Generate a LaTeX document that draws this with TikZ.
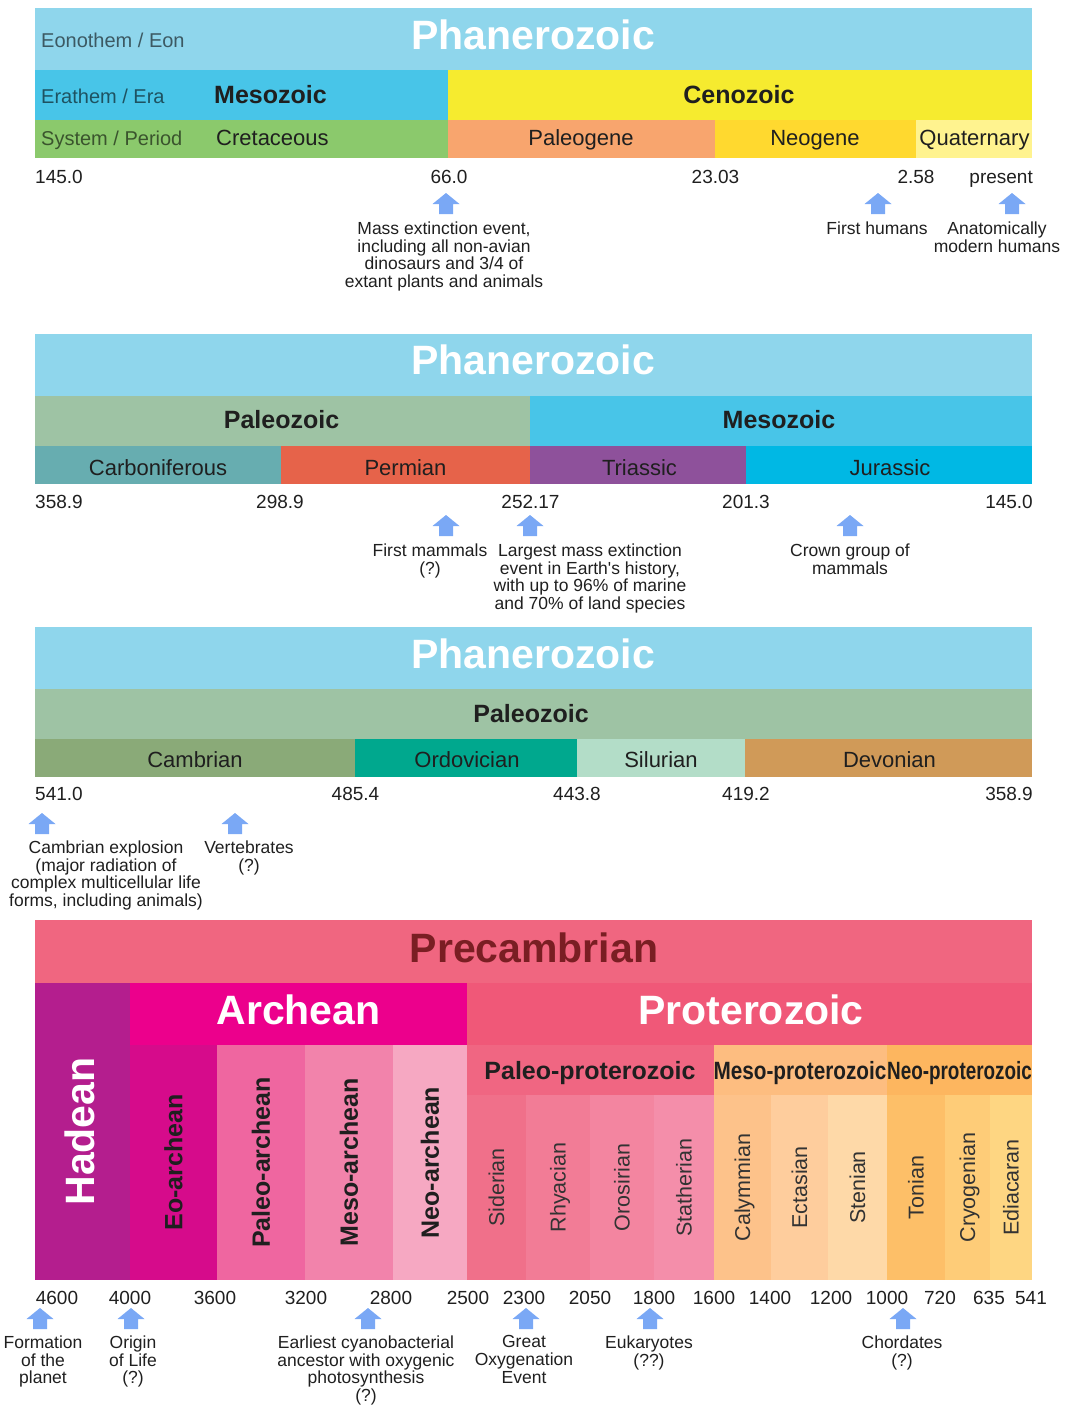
\documentclass[tikz,border=0pt]{standalone}
\usepackage{graphicx}
\usepackage{fontspec}
\setmainfont{Liberation Sans}

\definecolor{phanero}{RGB}{143,214,236}
\definecolor{mesozoic}{RGB}{72,197,232}
\definecolor{cenozoic}{RGB}{246,235,47}
\definecolor{paleozoic}{RGB}{158,195,164}
\definecolor{cretaceous}{RGB}{139,201,108}
\definecolor{paleogene}{RGB}{248,165,110}
\definecolor{neogene}{RGB}{255,217,47}
\definecolor{quaternary}{RGB}{255,243,143}
\definecolor{carbonif}{RGB}{103,173,176}
\definecolor{permian}{RGB}{230,99,74}
\definecolor{triassic}{RGB}{142,81,155}
\definecolor{jurassic}{RGB}{0,184,228}
\definecolor{cambrian}{RGB}{138,170,120}
\definecolor{ordovician}{RGB}{0,168,142}
\definecolor{silurian}{RGB}{179,221,200}
\definecolor{devonian}{RGB}{208,154,88}
\definecolor{precamb}{RGB}{240,102,128}
\definecolor{precambtxt}{RGB}{122,30,35}
\definecolor{hadean}{RGB}{180,30,142}
\definecolor{archean}{RGB}{236,0,140}
\definecolor{proterozoic}{RGB}{240,88,120}
\definecolor{eoarch}{RGB}{214,11,139}
\definecolor{paleoarch}{RGB}{239,102,160}
\definecolor{mesoarch}{RGB}{242,131,171}
\definecolor{neoarch}{RGB}{246,168,194}
\definecolor{paleoprot}{RGB}{240,102,130}
\definecolor{mesoprot}{RGB}{253,189,128}
\definecolor{neoprot}{RGB}{253,182,95}
\definecolor{siderian}{RGB}{240,112,138}
\definecolor{rhyacian}{RGB}{242,124,150}
\definecolor{orosirian}{RGB}{243,133,160}
\definecolor{statherian}{RGB}{244,142,170}
\definecolor{calymmian}{RGB}{253,194,138}
\definecolor{ectasian}{RGB}{254,205,157}
\definecolor{stenian}{RGB}{254,217,168}
\definecolor{tonian}{RGB}{253,191,104}
\definecolor{cryogenian}{RGB}{254,204,120}
\definecolor{ediacaran}{RGB}{254,214,130}
\definecolor{arrowblue}{RGB}{122,168,245}

\begin{document}
\begin{tikzpicture}[
    x=1pt,y=-1pt,
    every node/.style={inner sep=0pt, text=black!88},
    eontitle/.style={font=\fontsize{41}{41}\selectfont\bfseries, text=white, text height=29.4pt, text depth=0pt},
    rank/.style={font=\fontsize{20}{20}\selectfont, text=black, text opacity=0.58, anchor=west, text height=14.3pt, text depth=0pt},
    erabold/.style={font=\fontsize{25}{25}\selectfont\bfseries, text height=17.9pt, text depth=0pt},
    period/.style={font=\fontsize{22}{22}\selectfont, text height=15.8pt, text depth=0pt},
    stage/.style={font=\fontsize{21.5}{21.5}\selectfont, text=black!80, rotate=90, text height=15.4pt, text depth=0pt},
    age/.style={font=\fontsize{19}{19}\selectfont, text height=13.6pt, text depth=0pt},
    note/.style={font=\fontsize{17.5}{17.7}\selectfont, align=center, anchor=north}
]
    \useasboundingbox (0,0) rectangle (1066,1405);

    % Cretaceous to present
    \fill[phanero] (35,8) rectangle (1032,70);
    \fill[mesozoic] (35,70) rectangle (448,120);
    \fill[cenozoic] (448,70) rectangle (1032,120);
    \fill[cretaceous] (35,120) rectangle (448,158);
    \fill[paleogene] (448,120) rectangle (715,158);
    \fill[neogene] (715,120) rectangle (916,158);
    \fill[quaternary] (916,120) rectangle (1032,158);

    \node[eontitle] (phanA) at (533,35) {Phanerozoic};
    \node[rank] (eonlbl) at (41,40) {Eonothem / Eon};
    \node[rank] (eralbl) at (41,96) {Erathem / Era};
    \node[rank] (perlbl) at (41,138) {System / Period};
    \node[erabold, anchor=west] (mesoA) at (214,95) {Mesozoic};
    \node[erabold] (cenoA) at (739,95) {Cenozoic};
    \node[period, anchor=west] (cretA) at (216,138) {Cretaceous};
    \foreach \x/\lbl/\nm in {581/Paleogene/paleog, 815/Neogene/neog, 974.5/Quaternary/quat} {
        \node[period] (\nm) at (\x,138) {\lbl};
    }

    \node[age, anchor=west] (aA0) at (35,177) {145.0};
    \foreach \x/\v/\nm in {449/66.0/aA1, 715.5/23.03/aA2, 916/2.58/aA3} {
        \node[age] (\nm) at (\x,177) {\v};
    }
    \node[age, anchor=east] (aA4) at (1033,177) {present};

    \node[note] (nA1) at (444,221.5) {Mass extinction event,\\including all non-avian\\dinosaurs and 3/4 of\\extant plants and animals};
    \node[note] (nA2) at (877,221.5) {First humans};
    \node[note] (nA3) at (997,221.5) {Anatomically\\modern humans};

    % Carboniferous to Jurassic
    \fill[phanero] (35,334) rectangle (1032,396);
    \fill[paleozoic] (35,396) rectangle (530,446);
    \fill[mesozoic] (530,396) rectangle (1032,446);
    \fill[carbonif] (35,446) rectangle (281,484);
    \fill[permian] (281,446) rectangle (530,484);
    \fill[triassic] (530,446) rectangle (746,484);
    \fill[jurassic] (746,446) rectangle (1032,484);

    \node[eontitle] (phanB) at (533,360) {Phanerozoic};
    \node[erabold] (paleoB) at (281.5,420) {Paleozoic};
    \node[erabold] (mesoB) at (779,420) {Mesozoic};
    \foreach \x/\lbl/\nm in {158/Carboniferous/carb, 405.5/Permian/perm, 639.5/Triassic/tria, 890/Jurassic/jura} {
        \node[period] (\nm) at (\x,468) {\lbl};
    }

    \node[age, anchor=west] (aB0) at (35,502) {358.9};
    \foreach \x/\v/\nm in {280/298.9/aB1, 530.5/252.17/aB2, 746/201.3/aB3} {
        \node[age] (\nm) at (\x,502) {\v};
    }
    \node[age, anchor=east] (aB4) at (1033,502) {145.0};

    \node[note] (nB1) at (430,543.5) {First mammals\\(?)};
    \node[note] (nB2) at (590,543.5) {Largest mass extinction\\event in Earth\textquotesingle s history,\\with up to 96\% of marine\\and 70\% of land species};
    \node[note] (nB3) at (850,543.5) {Crown group of\\mammals};

    % Cambrian to Devonian
    \fill[phanero] (35,627) rectangle (1032,689);
    \fill[paleozoic] (35,689) rectangle (1032,739);
    \fill[cambrian] (35,739) rectangle (355,777);
    \fill[ordovician] (355,739) rectangle (577,777);
    \fill[silurian] (577,739) rectangle (745,777);
    \fill[devonian] (745,739) rectangle (1032,777);

    \node[eontitle] (phanC) at (533,653.5) {Phanerozoic};
    \node[erabold] (paleoC) at (531,714) {Paleozoic};
    \foreach \x/\lbl/\nm in {195/Cambrian/camb, 467/Ordovician/ordo, 661/Silurian/silu, 889.5/Devonian/devo} {
        \node[period] (\nm) at (\x,760) {\lbl};
    }

    \node[age, anchor=west] (aC0) at (35,794) {541.0};
    \foreach \x/\v/\nm in {355.5/485.4/aC1, 577/443.8/aC2, 746/419.2/aC3} {
        \node[age] (\nm) at (\x,794) {\v};
    }
    \node[age, anchor=east] (aC4) at (1033,794) {358.9};

    \node[note] (nC1) at (106,840.5) {Cambrian explosion\\(major radiation of\\complex multicellular life\\forms, including animals)};
    \node[note] (nC2) at (249,840.5) {Vertebrates\\(?)};

    % Precambrian
    \fill[precamb] (35,920) rectangle (1032,983);
    \fill[hadean] (35,983) rectangle (130,1280);
    \fill[archean] (130,983) rectangle (467,1045);
    \fill[proterozoic] (467,983) rectangle (1032,1045);
    \fill[paleoprot] (467,1045) rectangle (714,1095);
    \fill[mesoprot] (714,1045) rectangle (887,1095);
    \fill[neoprot] (887,1045) rectangle (1032,1095);

    \node[eontitle, text=precambtxt] (precam) at (534,947.5) {Precambrian};
    \node[eontitle, rotate=90] (hade) at (80,1131.5) {Hadean};
    \node[eontitle] (arch) at (298.5,1010) {Archean};
    \node[eontitle] (prot) at (751,1010) {Proterozoic};

    \foreach \xa/\xb/\col/\lbl in {130/217/eoarch/Eo-archean, 217/305/paleoarch/Paleo-archean,
                                   305/393/mesoarch/Meso-archean, 393/467/neoarch/Neo-archean} {
        \fill[\col] (\xa,1045) rectangle (\xb,1280);
        \node[erabold, rotate=90] (n\col) at ({(\xa+\xb)/2},1162.5) {\lbl};
    }

    \node[erabold] (npaleoprot) at (590,1071) {Paleo-proterozoic};
    \node[erabold] (nmesoprot) at (800,1071) {\scalebox{0.83}[1]{Meso-proterozoic}};
    \node[erabold] (nneoprot) at (959.5,1071) {\scalebox{0.755}[1]{Neo-proterozoic}};

    \foreach \xa/\xb/\col/\lbl in {467/526/siderian/Siderian, 526/590/rhyacian/Rhyacian,
                                   590/654/orosirian/Orosirian, 654/714/statherian/Statherian,
                                   714/771/calymmian/Calymmian, 771/828/ectasian/Ectasian,
                                   828/887/stenian/Stenian, 887/945/tonian/Tonian,
                                   945/990/cryogenian/Cryogenian, 990/1032/ediacaran/Ediacaran} {
        \fill[\col] (\xa,1095) rectangle (\xb,1280);
        \node[stage] (n\col) at ({(\xa+\xb)/2},1187.5) {\lbl};
    }

    \foreach \x/\v in {57/4600, 130/4000, 215/3600, 306/3200, 391/2800, 468/2500, 524/2300, 590/2050,
                       654/1800, 714/1600, 770/1400, 831/1200, 887/1000, 940/720, 989/635, 1031/541} {
        \node[age] (t\v) at (\x,1298) {\v};
    }

    \node[note] (nD1) at (43,1335.5) {Formation\\of the\\planet};
    \node[note] (nD2) at (133,1335.5) {Origin\\of Life\\(?)};
    \node[note] (nD3) at (366,1335.5) {Earliest cyanobacterial\\ancestor with oxygenic\\photosynthesis\\(?)};
    \node[note] (nD4) at (524,1335.5) {Great\\Oxygenation\\Event};
    \node[note] (nD5) at (649,1335.5) {Eukaryotes\\(??)};
    \node[note] (nD6) at (902,1335.5) {Chordates\\(?)};

    % event arrows
    \foreach \ax/\ay in {446/193, 878/193, 1012/193, 446/515, 530/515, 850/515, 42/813, 235/813,
                         40/1308, 131/1308, 368/1308, 526/1308, 650/1308, 903/1308} {
        \fill[arrowblue] (\ax,\ay) -- (\ax+13.5,\ay+11) -- (\ax+7,\ay+11) -- (\ax+7,\ay+21)
            -- (\ax-7,\ay+21) -- (\ax-7,\ay+11) -- (\ax-13.5,\ay+11) -- cycle;
    }
\end{tikzpicture}
\end{document}
